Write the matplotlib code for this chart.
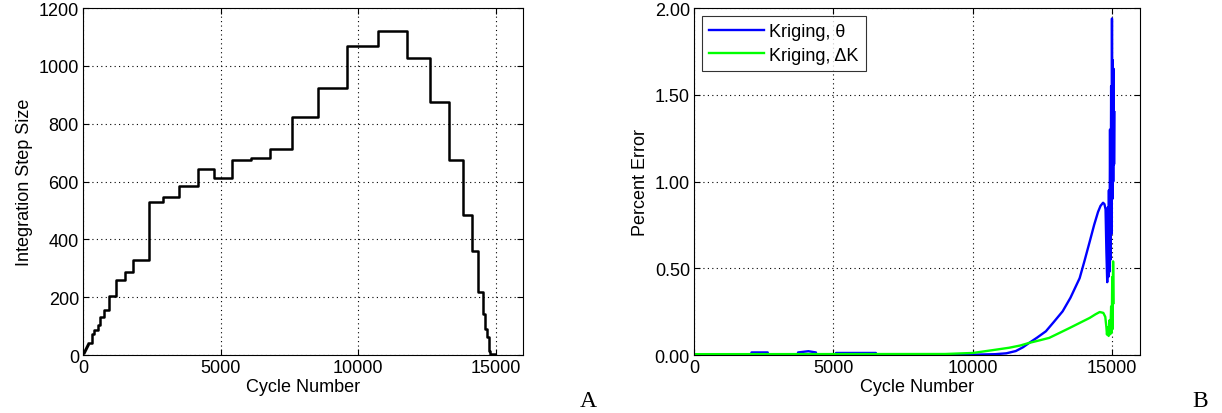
import numpy as np
import matplotlib
matplotlib.use('Agg')
import matplotlib.pyplot as plt

plt.rcParams['font.family'] = ['Liberation Sans', 'DejaVu Sans']
plt.rcParams['font.size'] = 13

# panel A: integration step size (step function, value holds from each x to the next)
step_x = [0, 40, 80, 120, 160, 193, 314, 412, 533, 631, 777, 960, 1200, 1518, 1825,
          2383, 2894, 3504, 4161, 4745, 5423, 6106, 6799, 7613, 8551, 9600, 10730,
          11788, 12628, 13296, 13807, 14135, 14354, 14562, 14621, 14682, 14745,
          14775, 14806, 14964]
step_y = [6, 13, 20, 27, 33, 40, 73, 86, 105, 130, 155, 203, 258, 288, 328,
          530, 548, 584, 644, 614, 675, 683, 714, 822, 924, 1070, 1120,
          1026, 874, 675, 486, 360, 219, 142, 90, 61, 35,
          15, 3, 3]

# panel B: percent error
blue_x = [0, 2050, 2060, 2640, 2650, 3720, 3730, 4100, 4370, 4380, 5080, 5090, 6520,
          6530, 9500, 10000, 10800, 11200, 11540, 11800, 12020, 12300, 12620, 12900,
          13220, 13500, 13830, 14000, 14190, 14350, 14490, 14580, 14670, 14720,
          14760, 14790, 14820, 14840, 14860, 14880, 14900, 14920, 14940,
          14960, 14975, 14990, 15005, 15020, 15035, 15050, 15065, 15080]
blue_y = [0.003, 0.003, 0.015, 0.015, 0.003, 0.003, 0.015, 0.022, 0.015, 0.003, 0.003,
          0.012, 0.012, 0.003, 0.002, 0.002, 0.005, 0.010, 0.023, 0.045, 0.07, 0.10,
          0.137, 0.19, 0.252, 0.33, 0.443, 0.54, 0.653, 0.75, 0.825, 0.86, 0.878, 0.87,
          0.84, 0.60, 0.42, 0.85, 0.45, 0.95, 0.48, 1.30, 0.55,
          1.55, 0.70, 1.94, 0.90, 1.70, 1.00, 1.65, 1.10, 1.40]

green_x = [0, 9000, 10000, 10700, 11300, 11700, 12020, 12400, 12740, 13100, 13470,
           13830, 14190, 14400, 14550, 14680, 14750, 14790, 14810, 14840, 14870,
           14900, 14930, 14960, 14980, 15000, 15015, 15030, 15050]
green_y = [0.005, 0.006, 0.012, 0.028, 0.042, 0.055, 0.07, 0.085, 0.099, 0.127, 0.156,
           0.185, 0.214, 0.235, 0.248, 0.243, 0.22, 0.16, 0.118, 0.16, 0.11,
           0.20, 0.12, 0.28, 0.13, 0.45, 0.15, 0.54, 0.30]

fig = plt.figure(figsize=(12.22, 4.14), dpi=100)
ax1 = fig.add_axes([0.068, 0.140, 0.360, 0.838])
ax2 = fig.add_axes([0.568, 0.140, 0.365, 0.838])


def matlab_style(ax):
    ax.grid(True, linestyle=(0, (1, 3)), color='black', linewidth=0.8)
    ax.tick_params(direction='in', top=True, right=True, length=4, width=0.8, pad=3)
    for s in ax.spines.values():
        s.set_linewidth(0.8)
    ax.set_xlim(0, 16000)
    ax.set_xticks([0, 5000, 10000, 15000])


ax1.step(step_x, step_y, where='post', color='black', linewidth=1.8)
matlab_style(ax1)
ax1.set_ylim(0, 1200)
ax1.set_yticks(np.arange(0, 1201, 200))
ax1.set_xlabel('Cycle Number', labelpad=1)
ax1.set_ylabel('Integration Step Size')

ax2.plot(blue_x, blue_y, color='#0000ff', linewidth=1.7, label='Kriging, θ')
ax2.plot(green_x, green_y, color='#00ff00', linewidth=1.7, label='Kriging, ΔK')
matlab_style(ax2)
ax2.set_ylim(0, 2)
ax2.set_yticks([0, 0.5, 1.0, 1.5, 2.0])
ax2.set_yticklabels(['0.00', '0.50', '1.00', '1.50', '2.00'])
ax2.set_xlabel('Cycle Number', labelpad=1)
ax2.set_ylabel('Percent Error')
leg = ax2.legend(loc='upper left', fancybox=False, edgecolor='black',
                 handlelength=3.0, borderpad=0.4, labelspacing=0.35,
                 handletextpad=0.3, borderaxespad=0.45)
leg.get_frame().set_linewidth(0.8)

fig.text(0.481, 0.018, 'A', family=['Liberation Serif'], fontsize=17, ha='center')
fig.text(0.982, 0.018, 'B', family=['Liberation Serif'], fontsize=17, ha='center')

fig.savefig('out.png', dpi=100)
